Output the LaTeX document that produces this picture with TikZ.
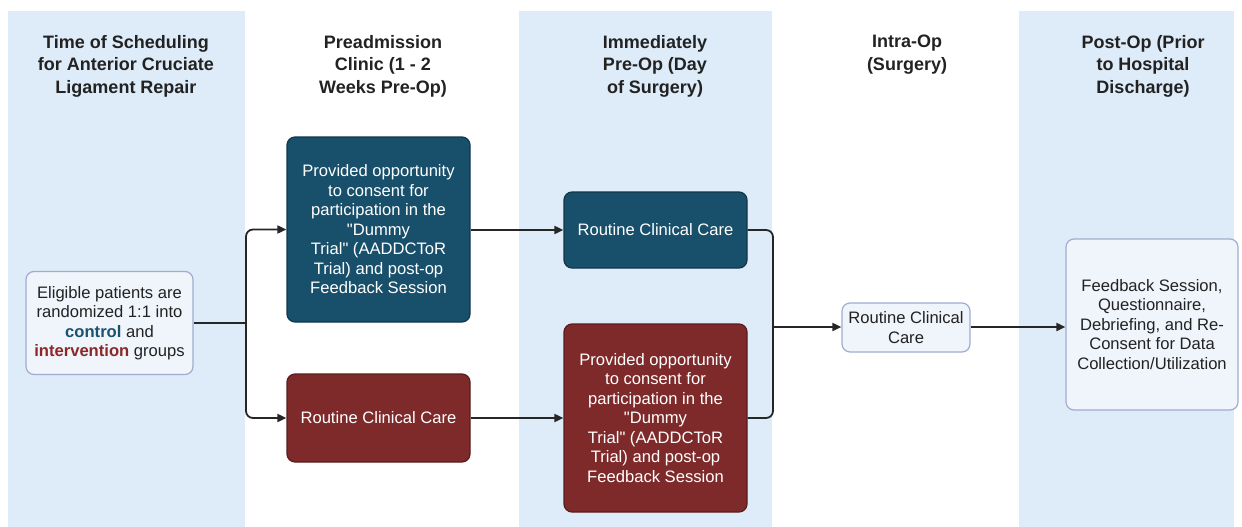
\documentclass[tikz,border=0pt]{standalone}
\usepackage{fontspec}
\setmainfont{Liberation Sans}
\usetikzlibrary{arrows.meta}

\definecolor{bandblue}{RGB}{222,235,248}
\definecolor{ctrlfill}{RGB}{24,79,107}
\definecolor{ctrltext}{RGB}{27,82,112}
\definecolor{intfill}{RGB}{126,42,42}
\definecolor{inttext}{RGB}{139,40,40}
\definecolor{lightfill}{RGB}{240,244,251}
\definecolor{lightedge}{RGB}{160,172,208}
\definecolor{ink}{RGB}{34,34,34}
\definecolor{wire}{RGB}{38,38,38}

\newcommand{\dq}{\textquotedbl}

\tikzset{
  band/.style={fill=bandblue, draw=none},
  header/.style={anchor=north, align=center, inner sep=0pt, text=ink,
    font=\fontsize{18}{22.5}\selectfont\bfseries},
  basebox/.style={rounded corners=8pt, align=center, inner sep=0pt,
    font=\fontsize{16.6}{19.5}\selectfont, line width=1.2pt},
  lightbox/.style={basebox, fill=lightfill, draw=lightedge, text=ink},
  ctrlbox/.style={basebox, fill=ctrlfill, draw=ctrlfill!70!black, text=white},
  intbox/.style={basebox, fill=intfill, draw=intfill!70!black, text=white},
  wireline/.style={line width=1.8pt, draw=wire, rounded corners=7pt},
  arrowline/.style={wireline, -{Triangle[length=9pt,width=8pt]}}
}

\begin{document}
\begin{tikzpicture}[x=1pt, y=-1pt]
  \useasboundingbox (0,0) rectangle (1242,527);

  % shaded phase columns
  \fill[band] (8,11) rectangle (245,527);
  \fill[band] (519,11) rectangle (772,527);
  \fill[band] (1019,11) rectangle (1234,527);

  % phase headings
  \node[header] (h1) at (126,35) {Time of Scheduling\\for Anterior Cruciate\\Ligament Repair};
  \node[header] (h2) at (383,35) {Preadmission\\Clinic (1 - 2\\Weeks Pre-Op)};
  \node[header] (h3) at (655,35) {Immediately\\Pre-Op (Day\\of Surgery)};
  \node[header] (h4) at (907,35) {Intra-Op\\(Surgery)};
  \node[header] (h5) at (1143,35) {Post-Op (Prior\\to Hospital\\Discharge)};

  % boxes
  \node[lightbox, minimum width=167pt, minimum height=103pt] (rand) at (109.5,323)
    {Eligible patients are\\randomized 1:1 into\\{\color{ctrltext}\bfseries control} and\\{\color{inttext}\bfseries intervention} groups};

  \node[ctrlbox, minimum width=183pt, minimum height=185pt] (c1) at (378.5,229.5)
    {Provided opportunity\\to consent for\\participation in the\\\dq Dummy\\Trial\dq\ (AADDCToR\\Trial) and post-op\\Feedback Session};
  \node[intbox, minimum width=183pt, minimum height=88pt] (i1) at (378.5,418)
    {Routine Clinical Care};

  \node[ctrlbox, minimum width=183pt, minimum height=76pt] (c2) at (655.5,230)
    {Routine Clinical Care};
  \node[intbox, minimum width=183pt, minimum height=188pt] (i2) at (655.5,418)
    {Provided opportunity\\to consent for\\participation in the\\\dq Dummy\\Trial\dq\ (AADDCToR\\Trial) and post-op\\Feedback Session};

  \node[lightbox, minimum width=128pt, minimum height=49pt] (op) at (906,327.5)
    {Routine Clinical\\Care};

  \node[lightbox, minimum width=172pt, minimum height=171pt] (post) at (1152,324.5)
    {Feedback Session,\\Questionnaire,\\Debriefing, and Re-\\Consent for Data\\Collection/Utilization};

  % connectors
  \coordinate (split) at (246,323);
  \coordinate (merge) at (773,327);
  \draw[wireline] (rand.east) -- (split);
  \draw[arrowline] (split) |- (c1.west);
  \draw[arrowline] (split) |- (i1.west);
  \draw[arrowline] (c1.east |- c2.west) -- (c2.west);
  \draw[arrowline] (i1.east) -- (i2.west |- i1.east);
  \draw[wireline] (c2.east) -| (merge);
  \draw[wireline] (i2.east |- i1.east) -| (merge);
  \draw[arrowline] (merge) -- (op.west |- merge);
  \draw[arrowline] (op.east |- merge) -- (post.west |- merge);
\end{tikzpicture}
\end{document}
